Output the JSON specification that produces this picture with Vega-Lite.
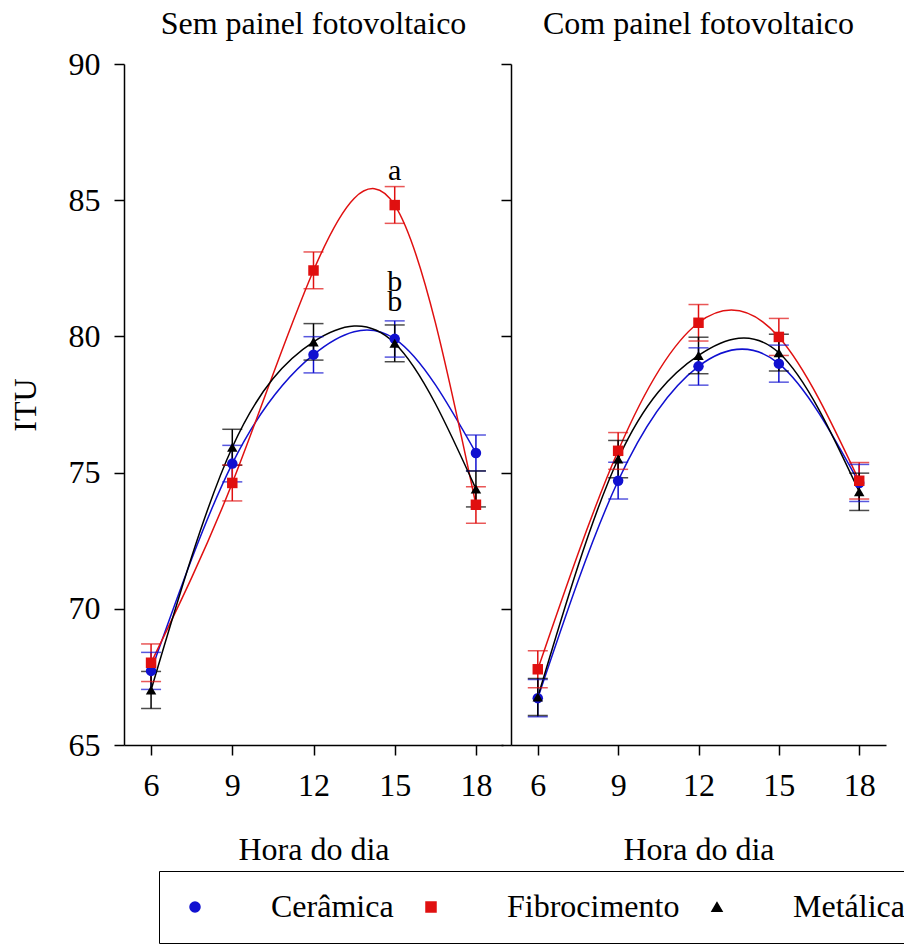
{
  "$schema": "https://vega.github.io/schema/vega-lite/v6.json",
  "background": "white",
  "padding": {"left": 9, "top": 8, "right": 0, "bottom": 0},
  "spacing": -3,
  "config": {
    "font": "Liberation Serif",
    "view": {"stroke": null},
    "axis": {
      "labelFont": "Liberation Serif", "titleFont": "Liberation Serif",
      "labelFontSize": 32, "titleFontSize": 32, "titleFontWeight": "normal",
      "labelColor": "black", "titleColor": "black",
      "domainColor": "black", "tickColor": "black",
      "domainWidth": 1.5, "tickWidth": 1.5, "grid": false, "tickSize": 10
    },
    "axisX": {"labelPadding": 15, "titlePadding": 33, "labelFlush": false},
    "axisY": {"labelPadding": 14, "titlePadding": 26},
    "title": {"font": "Liberation Serif", "fontSize": 32, "fontWeight": "normal", "color": "black", "frame": "group", "anchor": "middle", "baseline": "bottom"},
    "legend": {
      "orient": "none", "legendX": 35, "legendY": 807, "direction": "horizontal",
      "labelFont": "Liberation Serif", "labelFontSize": 32, "labelColor": "black", "labelOffset": 60, "labelLimit": 400,
      "symbolSize": 100, "columnPadding": 21, "padding": 20,
      "strokeColor": "black", "fillColor": "white", "symbolOpacity": 1
    }
  },
  "datasets": {
    "itu": [
      {"painel": "Sem painel fotovoltaico", "cobertura": "Cerâmica", "hora": 6, "itu": 67.72, "lo": 67.04, "hi": 68.40},
      {"painel": "Sem painel fotovoltaico", "cobertura": "Cerâmica", "hora": 9, "itu": 75.33, "lo": 74.66, "hi": 76.00},
      {"painel": "Sem painel fotovoltaico", "cobertura": "Cerâmica", "hora": 12, "itu": 79.33, "lo": 78.66, "hi": 79.99},
      {"painel": "Sem painel fotovoltaico", "cobertura": "Cerâmica", "hora": 15, "itu": 79.91, "lo": 79.24, "hi": 80.57},
      {"painel": "Sem painel fotovoltaico", "cobertura": "Cerâmica", "hora": 18, "itu": 75.72, "lo": 75.06, "hi": 76.38},
      {"painel": "Sem painel fotovoltaico", "cobertura": "Fibrocimento", "hora": 6, "itu": 68.02, "lo": 67.33, "hi": 68.71},
      {"painel": "Sem painel fotovoltaico", "cobertura": "Fibrocimento", "hora": 9, "itu": 74.62, "lo": 73.96, "hi": 75.28},
      {"painel": "Sem painel fotovoltaico", "cobertura": "Fibrocimento", "hora": 12, "itu": 82.42, "lo": 81.75, "hi": 83.10},
      {"painel": "Sem painel fotovoltaico", "cobertura": "Fibrocimento", "hora": 15, "itu": 84.82, "lo": 84.15, "hi": 85.50},
      {"painel": "Sem painel fotovoltaico", "cobertura": "Fibrocimento", "hora": 18, "itu": 73.82, "lo": 73.14, "hi": 74.48},
      {"painel": "Sem painel fotovoltaico", "cobertura": "Metálica", "hora": 6, "itu": 67.02, "lo": 66.34, "hi": 67.70},
      {"painel": "Sem painel fotovoltaico", "cobertura": "Metálica", "hora": 9, "itu": 75.93, "lo": 75.27, "hi": 76.59},
      {"painel": "Sem painel fotovoltaico", "cobertura": "Metálica", "hora": 12, "itu": 79.80, "lo": 79.13, "hi": 80.47},
      {"painel": "Sem painel fotovoltaico", "cobertura": "Metálica", "hora": 15, "itu": 79.75, "lo": 79.07, "hi": 80.42},
      {"painel": "Sem painel fotovoltaico", "cobertura": "Metálica", "hora": 18, "itu": 74.40, "lo": 73.74, "hi": 75.06},
      {"painel": "Com painel fotovoltaico", "cobertura": "Cerâmica", "hora": 6, "itu": 66.72, "lo": 66.04, "hi": 67.40},
      {"painel": "Com painel fotovoltaico", "cobertura": "Cerâmica", "hora": 9, "itu": 74.70, "lo": 74.03, "hi": 75.38},
      {"painel": "Com painel fotovoltaico", "cobertura": "Cerâmica", "hora": 12, "itu": 78.90, "lo": 78.21, "hi": 79.58},
      {"painel": "Com painel fotovoltaico", "cobertura": "Cerâmica", "hora": 15, "itu": 79.00, "lo": 78.32, "hi": 79.68},
      {"painel": "Com painel fotovoltaico", "cobertura": "Cerâmica", "hora": 18, "itu": 74.62, "lo": 73.94, "hi": 75.30},
      {"painel": "Com painel fotovoltaico", "cobertura": "Fibrocimento", "hora": 6, "itu": 67.78, "lo": 67.10, "hi": 68.46},
      {"painel": "Com painel fotovoltaico", "cobertura": "Fibrocimento", "hora": 9, "itu": 75.80, "lo": 75.12, "hi": 76.47},
      {"painel": "Com painel fotovoltaico", "cobertura": "Fibrocimento", "hora": 12, "itu": 80.50, "lo": 79.83, "hi": 81.17},
      {"painel": "Com painel fotovoltaico", "cobertura": "Fibrocimento", "hora": 15, "itu": 79.98, "lo": 79.30, "hi": 80.66},
      {"painel": "Com painel fotovoltaico", "cobertura": "Fibrocimento", "hora": 18, "itu": 74.70, "lo": 74.03, "hi": 75.37},
      {"painel": "Com painel fotovoltaico", "cobertura": "Metálica", "hora": 6, "itu": 66.76, "lo": 66.08, "hi": 67.44},
      {"painel": "Com painel fotovoltaico", "cobertura": "Metálica", "hora": 9, "itu": 75.50, "lo": 74.81, "hi": 76.18},
      {"painel": "Com painel fotovoltaico", "cobertura": "Metálica", "hora": 12, "itu": 79.30, "lo": 78.63, "hi": 79.97},
      {"painel": "Com painel fotovoltaico", "cobertura": "Metálica", "hora": 15, "itu": 79.40, "lo": 78.73, "hi": 80.08},
      {"painel": "Com painel fotovoltaico", "cobertura": "Metálica", "hora": 18, "itu": 74.30, "lo": 73.61, "hi": 74.98}
    ],
    "letras": [
      {"painel": "Sem painel fotovoltaico", "hora": 15, "itu": 85.75, "letra": "a"},
      {"painel": "Sem painel fotovoltaico", "hora": 15, "itu": 81.65, "letra": "b"},
      {"painel": "Sem painel fotovoltaico", "hora": 15, "itu": 80.95, "letra": "b"}
    ]
  },
  "hconcat": [
    {
      "width": 379, "height": 681,
      "title": {"text": "Sem painel fotovoltaico", "offset": 7},
      "layer": [
        {
          "data": {"name": "itu"},
          "transform": [{"filter": "datum.painel === 'Sem painel fotovoltaico'"}],
          "encoding": {
            "x": {"field": "hora", "type": "quantitative", "scale": {"domain": [5, 19], "nice": false, "zero": false}, "axis": {"values": [6, 9, 12, 15, 18], "title": "Hora do dia"}},
            "color": {"field": "cobertura", "type": "nominal", "title": null, "scale": {"domain": ["Cerâmica", "Fibrocimento", "Metálica"], "range": ["#1010d0", "#e01010", "#000000"]}}
          },
          "layer": [
            {
              "mark": {"type": "line", "interpolate": "natural", "strokeWidth": 1.5},
              "encoding": {
                "y": {"field": "itu", "type": "quantitative", "scale": {"domain": [65, 90], "nice": false, "zero": false}, "axis": {"values": [65, 70, 75, 80, 85, 90], "title": "ITU"}}
              }
            },
            {
              "mark": {"type": "rule", "strokeWidth": 1.5},
              "encoding": {
                "y": {"field": "lo", "type": "quantitative", "scale": {"domain": [65, 90], "nice": false, "zero": false}, "axis": {"values": [65, 70, 75, 80, 85, 90], "title": "ITU"}},
                "y2": {"field": "hi"}
              }
            },
            {
              "mark": {"type": "tick", "orient": "horizontal", "size": 20, "thickness": 1.5},
              "encoding": {
                "y": {"field": "lo", "type": "quantitative", "scale": {"domain": [65, 90], "nice": false, "zero": false}, "axis": {"values": [65, 70, 75, 80, 85, 90], "title": "ITU"}}
              }
            },
            {
              "mark": {"type": "tick", "orient": "horizontal", "size": 20, "thickness": 1.5},
              "encoding": {
                "y": {"field": "hi", "type": "quantitative", "scale": {"domain": [65, 90], "nice": false, "zero": false}, "axis": {"values": [65, 70, 75, 80, 85, 90], "title": "ITU"}}
              }
            },
            {
              "mark": {"type": "point", "filled": true, "opacity": 1, "size": 110},
              "encoding": {
                "y": {"field": "itu", "type": "quantitative", "scale": {"domain": [65, 90], "nice": false, "zero": false}, "axis": {"values": [65, 70, 75, 80, 85, 90], "title": "ITU"}},
                "shape": {"field": "cobertura", "type": "nominal", "title": null, "scale": {"domain": ["Cerâmica", "Fibrocimento", "Metálica"], "range": ["circle", "square", "triangle-up"]}}
              }
            }
          ]
        },
        {
          "data": {"name": "letras"},
          "mark": {"type": "text", "font": "Liberation Serif", "fontSize": 30, "baseline": "alphabetic", "align": "center", "color": "black"},
          "encoding": {
            "x": {"field": "hora", "type": "quantitative", "scale": {"domain": [5, 19], "nice": false, "zero": false}, "axis": {"values": [6, 9, 12, 15, 18], "title": "Hora do dia"}},
            "y": {"field": "itu", "type": "quantitative", "scale": {"domain": [65, 90], "nice": false, "zero": false}, "axis": {"values": [65, 70, 75, 80, 85, 90], "title": "ITU"}},
            "text": {"field": "letra"}
          }
        }
      ]
    },
    {
      "width": 375, "height": 681,
      "title": {"text": "Com painel fotovoltaico", "offset": 22},
      "data": {"name": "itu"},
      "transform": [{"filter": "datum.painel === 'Com painel fotovoltaico'"}],
      "encoding": {
        "x": {"field": "hora", "type": "quantitative", "scale": {"domain": [5, 19], "nice": false, "zero": false}, "axis": {"values": [6, 9, 12, 15, 18], "title": "Hora do dia"}},
        "color": {"field": "cobertura", "type": "nominal", "title": null}
      },
      "layer": [
        {
          "mark": {"type": "line", "interpolate": "natural", "strokeWidth": 1.5},
          "encoding": {
            "y": {"field": "itu", "type": "quantitative", "scale": {"domain": [65, 90], "nice": false, "zero": false}, "axis": {"values": [65, 70, 75, 80, 85, 90], "labels": false, "title": null}}
          }
        },
        {
          "mark": {"type": "rule", "strokeWidth": 1.5},
          "encoding": {
            "y": {"field": "lo", "type": "quantitative", "scale": {"domain": [65, 90], "nice": false, "zero": false}, "axis": {"values": [65, 70, 75, 80, 85, 90], "labels": false, "title": null}},
            "y2": {"field": "hi"}
          }
        },
        {
          "mark": {"type": "tick", "orient": "horizontal", "size": 20, "thickness": 1.5},
          "encoding": {
            "y": {"field": "lo", "type": "quantitative", "scale": {"domain": [65, 90], "nice": false, "zero": false}, "axis": {"values": [65, 70, 75, 80, 85, 90], "labels": false, "title": null}}
          }
        },
        {
          "mark": {"type": "tick", "orient": "horizontal", "size": 20, "thickness": 1.5},
          "encoding": {
            "y": {"field": "hi", "type": "quantitative", "scale": {"domain": [65, 90], "nice": false, "zero": false}, "axis": {"values": [65, 70, 75, 80, 85, 90], "labels": false, "title": null}}
          }
        },
        {
          "mark": {"type": "point", "filled": true, "opacity": 1, "size": 110},
          "encoding": {
            "y": {"field": "itu", "type": "quantitative", "scale": {"domain": [65, 90], "nice": false, "zero": false}, "axis": {"values": [65, 70, 75, 80, 85, 90], "labels": false, "title": null}},
            "shape": {"field": "cobertura", "type": "nominal", "title": null}
          }
        }
      ]
    }
  ],
  "resolve": {"scale": {"color": "shared", "shape": "shared"}}
}
